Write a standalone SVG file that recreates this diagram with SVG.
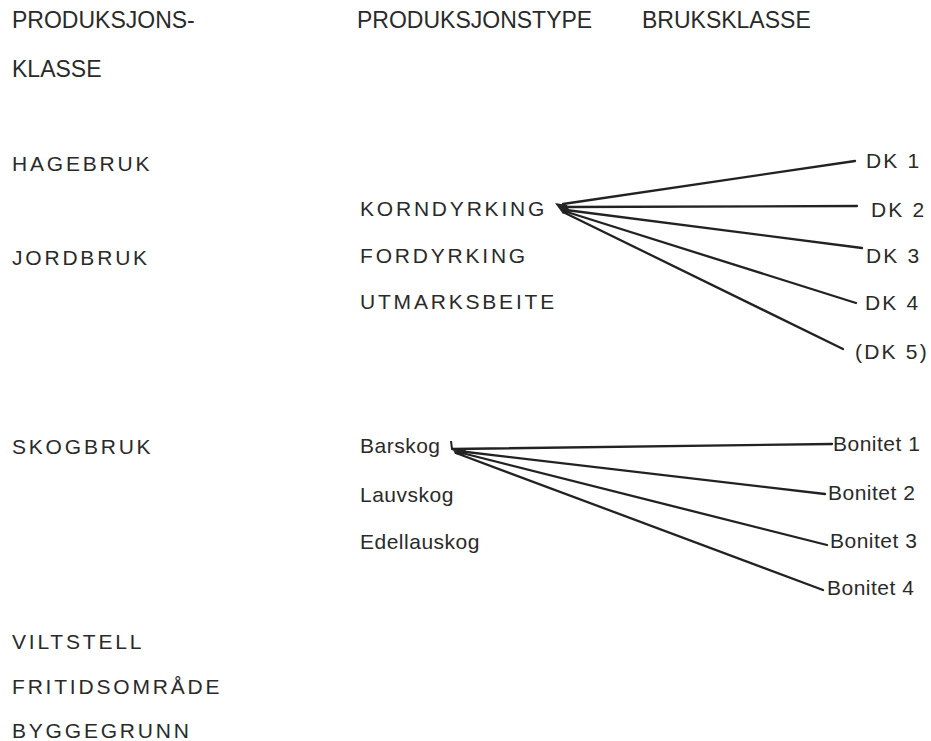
<svg xmlns="http://www.w3.org/2000/svg" width="931" height="741" viewBox="0 0 931 741">
<style>
text{font-family:"Liberation Sans",Arial,sans-serif;fill:#2a2a2a}
.h{font-size:23px}
.c{font-size:21px;letter-spacing:2.8px}
.r{font-size:21px;letter-spacing:2.2px}
.l{font-size:21px;letter-spacing:0.5px}
.cn line{stroke:#222;stroke-width:2.3;stroke-linecap:round}
</style>
<rect width="931" height="741" fill="#fff"/>
<g id="headers">
<text class="h" x="12" y="28">PRODUKSJONS-</text>
<text class="h" x="12" y="77">KLASSE</text>
<text class="h" x="357" y="28">PRODUKSJONSTYPE</text>
<text class="h" x="642" y="28">BRUKSKLASSE</text>
</g>
<g id="n-hagebruk"><text class="c" x="12" y="171">HAGEBRUK</text></g>
<g id="n-jordbruk"><text class="c" x="12" y="265">JORDBRUK</text></g>
<g id="n-skogbruk"><text class="c" x="12" y="454">SKOGBRUK</text></g>
<g id="n-viltstell"><text class="c" x="12" y="649">VILTSTELL</text></g>
<g id="n-fritid"><text class="c" x="12" y="694">FRITIDSOMRÅDE</text></g>
<g id="n-bygge"><text class="c" x="12" y="738">BYGGEGRUNN</text></g>
<g id="n-korn"><text class="c" x="360" y="216">KORNDYRKING</text></g>
<g id="n-for"><text class="c" x="360" y="263">FORDYRKING</text></g>
<g id="n-utmark"><text class="c" x="360" y="309">UTMARKSBEITE</text></g>
<g id="n-barskog"><text class="l" x="360" y="453">Barskog</text></g>
<g id="n-lauv"><text class="l" x="360" y="502">Lauvskog</text></g>
<g id="n-edel"><text class="l" x="360" y="549">Edellauskog</text></g>
<g id="n-dk1"><text class="r" x="866" y="168">DK  1</text></g>
<g id="n-dk2"><text class="r" x="871" y="217">DK 2</text></g>
<g id="n-dk3"><text class="r" x="866" y="263">DK 3</text></g>
<g id="n-dk4"><text class="r" x="865" y="310">DK 4</text></g>
<g id="n-dk5"><text class="r" x="855" y="359">(DK 5)</text></g>
<g id="n-b1"><text class="l" x="833" y="451">Bonitet 1</text></g>
<g id="n-b2"><text class="l" x="828" y="500">Bonitet 2</text></g>
<g id="n-b3"><text class="l" x="830" y="548">Bonitet 3</text></g>
<g id="n-b4"><text class="l" x="827" y="595">Bonitet 4</text></g>
<g id="connectors" class="cn">
<polygon points="555,203 567,205 570,212 563,214" fill="#222"/>
<line x1="563" y1="204" x2="855" y2="161"/>
<line x1="565" y1="207" x2="857" y2="206"/>
<line x1="566" y1="210" x2="862" y2="248"/>
<line x1="567" y1="212" x2="856" y2="303"/>
<line x1="565" y1="213" x2="843" y2="349"/>
<polyline points="451,441 452,449" fill="none" stroke="#222" stroke-width="2"/>
<polygon points="452,448 466,450 464,455 455,454" fill="#333"/>
<line x1="452" y1="449" x2="832" y2="444"/>
<line x1="458" y1="451" x2="825" y2="494"/>
<line x1="458" y1="452" x2="827" y2="545"/>
<line x1="456" y1="453" x2="823" y2="590"/>
</g>
</svg>
